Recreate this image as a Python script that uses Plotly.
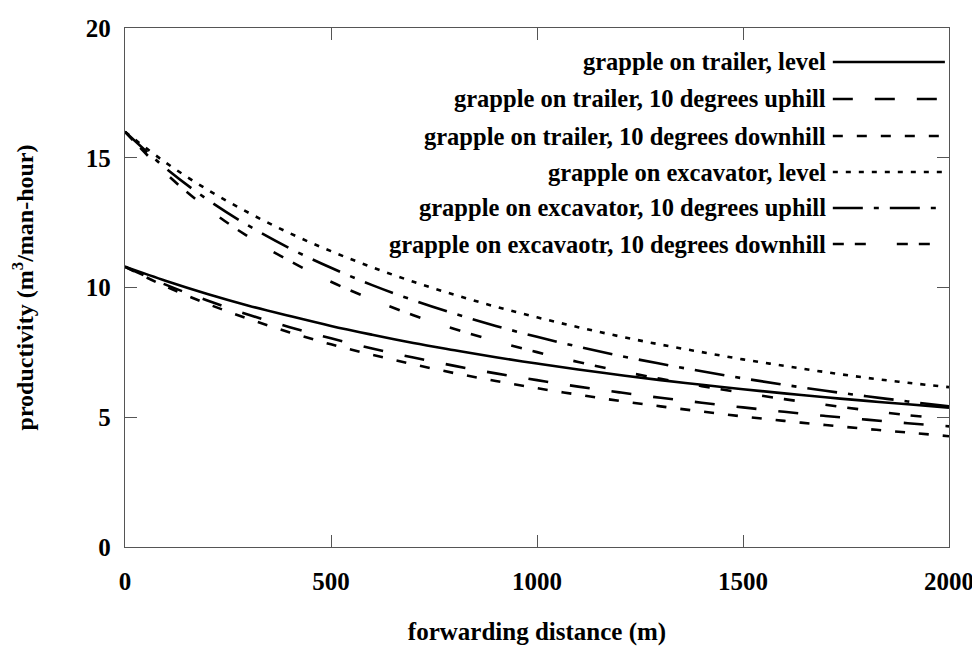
import plotly.graph_objects as go

distance = [0, 100, 200, 300, 400, 500, 600, 700, 800, 900, 1000,
            1100, 1200, 1300, 1400, 1500, 1600, 1700, 1800, 1900, 2000]

trailer_level = [10.80, 10.25, 9.75, 9.30, 8.90, 8.52, 8.18, 7.86, 7.58, 7.31, 7.07,
                 6.84, 6.63, 6.43, 6.25, 6.08, 5.92, 5.77, 5.63, 5.50, 5.37]
trailer_uphill = [10.80, 10.10, 9.50, 8.95, 8.47, 8.04, 7.65, 7.30, 6.98, 6.69, 6.43,
                  6.18, 5.96, 5.75, 5.56, 5.38, 5.21, 5.05, 4.91, 4.77, 4.65]
trailer_downhill = [10.80, 10.03, 9.37, 8.79, 8.27, 7.81, 7.41, 7.04, 6.70, 6.40, 6.12,
                    5.87, 5.63, 5.42, 5.22, 5.03, 4.86, 4.70, 4.55, 4.41, 4.27]
excavator_level = [16.00, 14.80, 13.77, 12.88, 12.09, 11.40, 10.78, 10.22, 9.72, 9.26, 8.85,
                   8.47, 8.12, 7.80, 7.51, 7.23, 6.98, 6.74, 6.52, 6.33, 6.16]
excavator_uphill = [16.00, 14.58, 13.39, 12.38, 11.51, 10.76, 10.09, 9.51, 8.99, 8.52, 8.10,
                    7.72, 7.37, 7.06, 6.77, 6.50, 6.25, 6.02, 5.81, 5.61, 5.42]
excavator_downhill = [16.00, 14.38, 13.05, 11.95, 11.02, 10.22, 9.54, 8.93, 8.40, 7.93, 7.51,
                      7.13, 6.79, 6.48, 6.20, 5.94, 5.70, 5.48, 5.27, 5.08, 4.93]

labels = [
    "grapple on trailer, level",
    "grapple on trailer, 10 degrees uphill",
    "grapple on trailer, 10 degrees downhill",
    "grapple on excavator, level",
    "grapple on excavator, 10 degrees uphill",
    "grapple on excavaotr, 10 degrees downhill",
]
series = [trailer_level, trailer_uphill, trailer_downhill,
          excavator_level, excavator_uphill, excavator_downhill]
dashes = ["solid", "20px,22px", "10px,14px", "5px,8px",
          "30px,11px,5px,11px", "11px,11px,11px,31px"]

x_ticks = [0, 500, 1000, 1500, 2000]
y_ticks = [0, 5, 10, 15, 20]

FONT = "Liberation Serif"
LINE_W = 2.6

fig = go.Figure()
for lab, ys, dash in zip(labels, series, dashes):
    fig.add_trace(go.Scatter(
        x=distance, y=ys, mode="lines", name=lab, showlegend=False,
        line=dict(color="black", width=LINE_W, dash=dash, shape="spline"),
        hovertemplate=lab + "<br>%{x} m: %{y:.2f}<extra></extra>",
    ))

# key: right-aligned label text with its line sample to the right (gnuplot style)
row_y = [0.9345, 0.8632, 0.7919, 0.7225, 0.6532, 0.5838]
for lab, yy, dash in zip(labels, row_y, dashes):
    fig.add_annotation(xref="paper", yref="paper", x=0.853, y=yy,
                       xanchor="right", yanchor="middle", showarrow=False,
                       text="<b>" + lab + "</b>",
                       font=dict(family=FONT, size=24.5, color="black"))
    fig.add_shape(type="line", xref="paper", yref="paper",
                  x0=0.859, x1=0.995, y0=yy, y1=yy,
                  line=dict(color="black", width=LINE_W, dash=dash))

axis_common = dict(
    showline=True, linecolor="#555555", linewidth=1.3, mirror="ticks",
    ticks="inside", ticklen=12, tickcolor="#555555", tickwidth=1.3,
    showgrid=False, zeroline=False, automargin=False,
    tickfont=dict(family=FONT, size=25, color="black", weight="bold"),
)

fig.update_layout(
    width=972, height=649,
    margin=dict(l=117, r=31, t=20, b=110),
    plot_bgcolor="white", paper_bgcolor="white",
    font=dict(family=FONT, color="black"),
    showlegend=False,
    xaxis=dict(range=[0, 2000], tickvals=x_ticks, ticklabelstandoff=12,
               title=dict(text="<b>forwarding distance (m)</b>", standoff=28,
                          font=dict(family=FONT, size=25)),
               **axis_common),
    yaxis=dict(range=[0, 20], tickvals=y_ticks, ticklabelstandoff=8,
               title=dict(text="<b>productivity (m<sup>3</sup>/man-hour)</b>", standoff=50,
                          font=dict(family=FONT, size=24)),
               **axis_common),
)

fig.write_html("out.html")
